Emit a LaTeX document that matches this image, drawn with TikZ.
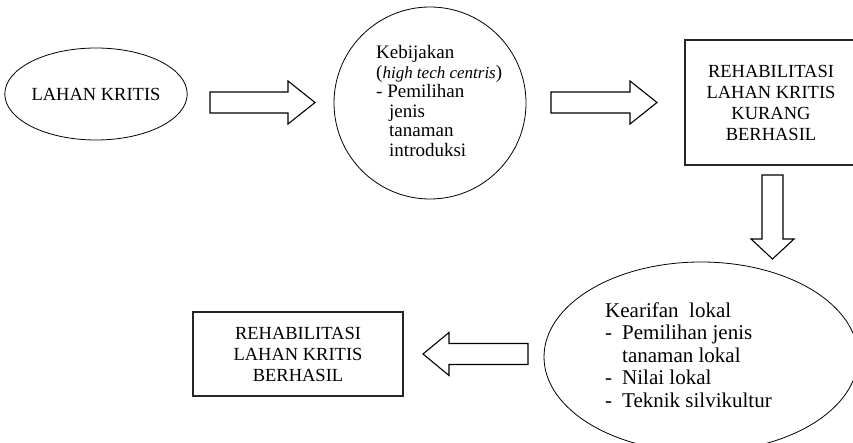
\documentclass[tikz,border=0pt]{standalone}
\usepackage{fontspec}
\setmainfont{Liberation Serif}
\usetikzlibrary{shapes.geometric}

\tikzset{
  oval/.style={draw, ellipse, line width=.8pt, inner sep=0pt},
  box/.style={draw=black!85, line width=1.4pt, align=center, inner sep=0pt},
  listtext/.style={anchor=west, align=left, inner sep=0pt},
  arrowline/.style={line width=1.1pt, fill=white},
  pics/blockarrow/.style 2 args={code={
    \draw[arrowline] (-#1/2,-10.5) -- (#1/2-#2,-10.5) -- (#1/2-#2,-21.5) -- (#1/2,0)
      -- (#1/2-#2,21.5) -- (#1/2-#2,10.5) -- (-#1/2,10.5) -- cycle;}}
}
\newcommand{\dashitem}{\makebox[17pt][l]{-}}

\begin{document}
\begin{tikzpicture}[x=1pt, y=1pt]
\useasboundingbox (0,0) rectangle (853,442);
\clip (0,0) rectangle (853,442);

\node [oval, minimum width=178pt, minimum height=92pt, font=\fontsize{18.5}{21}\selectfont] (lahan) at (96,348) {LAHAN KRITIS};

\node [draw, circle, line width=.8pt, minimum size=192pt] (kebijakan) at (430,339) {};
\node [listtext, font=\fontsize{19}{19.5}\selectfont] (kebijakantxt) at (376,341)
  {Kebijakan\\(\textit{\fontsize{17}{19.5}\selectfont high tech centris})\\- Pemilihan\\\hspace*{13pt}jenis\\\hspace*{13pt}tanaman\\\hspace*{13pt}introduksi};

\node [box, minimum width=172pt, minimum height=125pt, font=\fontsize{18.5}{21}\selectfont] (kurang) at (771,339.5)
  {REHABILITASI\\LAHAN KRITIS\\KURANG\\BERHASIL};

\node [oval, minimum width=314pt, minimum height=190pt] (kearifan) at (701,85) {};
\node [listtext, font=\fontsize{21}{22.5}\selectfont] (kearifantxt) at (605,87)
  {Kearifan\ \ lokal\\\dashitem Pemilihan jenis\\\hspace*{17pt}tanaman lokal\\\dashitem Nilai lokal\\\dashitem Teknik silvikultur};

\node [box, minimum width=210pt, minimum height=84pt, font=\fontsize{18.5}{21}\selectfont] (berhasil) at (298,88)
  {REHABILITASI\\LAHAN KRITIS\\BERHASIL};

\coordinate (a1) at (262.5,339.5);
\coordinate (a2) at (604,339.5);
\coordinate (a3) at (772.5,225);
\coordinate (a4) at (475.5,88);

\pic at (a1) {blockarrow={105}{27}};
\pic at (a2) {blockarrow={106}{27}};
\pic [rotate=-90] at (a3) {blockarrow={84}{20}};
\pic [rotate=180] at (a4) {blockarrow={105}{26}};
\end{tikzpicture}
\end{document}
